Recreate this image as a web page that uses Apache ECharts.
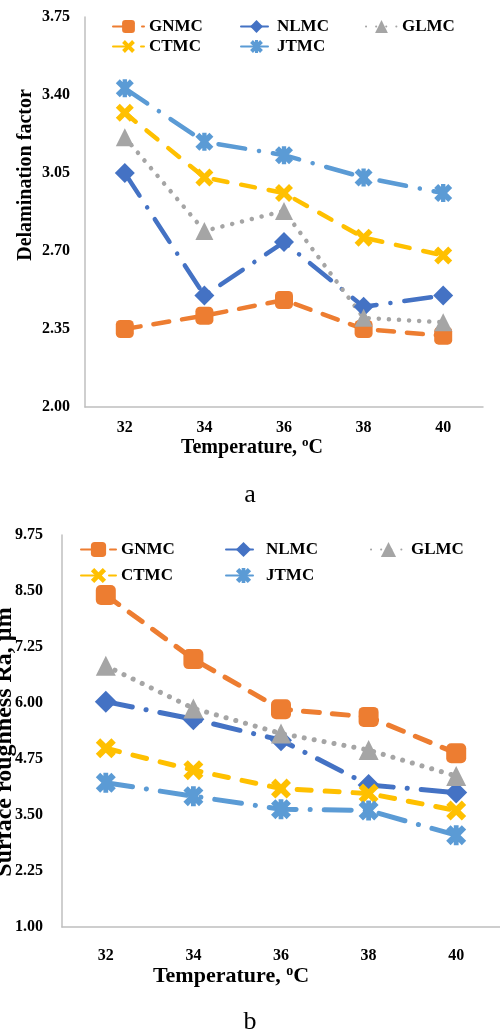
<!DOCTYPE html>
<html>
<head>
<meta charset="utf-8">
<script src="https://cdn.jsdelivr.net/npm/echarts@6/dist/echarts.min.js"></script>
<style>
html, body { margin: 0; padding: 0; background: #fff; }
#chart { width: 500px; height: 1035px; }
</style>
</head>
<body>
<div id="chart"></div>
<script>
// categories
const temperatures = ['32', '34', '36', '38', '40'];
const seriesNames = ['GNMC', 'NLMC', 'GLMC', 'CTMC', 'JTMC'];

// (a) delamination factor
const delamGNMC = [2.35, 2.41, 2.48, 2.35, 2.32];
const delamNLMC = [3.05, 2.50, 2.74, 2.45, 2.50];
const delamGLMC = [3.21, 2.79, 2.88, 2.40, 2.38];
const delamCTMC = [3.32, 3.03, 2.96, 2.76, 2.68];
const delamJTMC = [3.43, 3.19, 3.13, 3.03, 2.96];

// (b) surface roughness Ra, µm
const raGNMC = [8.41, 6.98, 5.86, 5.69, 4.88];
const raNLMC = [6.03, 5.64, 5.17, 4.17, 4.00];
const raGLMC = [6.83, 5.88, 5.32, 4.95, 4.37];
const raCTMC = [4.99, 4.50, 4.09, 3.98, 3.60];
const raJTMC = [4.22, 3.92, 3.63, 3.60, 3.05];

const FONT = "'Liberation Serif', 'Times New Roman', serif";

// marker shapes
const xPath = 'path://M0,0.22L0.22,0L0.5,0.28L0.78,0L1,0.22L0.72,0.5L1,0.78L0.78,1L0.5,0.72L0.22,1L0,0.78L0.28,0.5Z';
const starPath = 'path://M0,0.22L0.22,0L0.5,0.28L0.78,0L1,0.22L0.72,0.5L1,0.78L0.78,1L0.5,0.72L0.22,1L0,0.78L0.28,0.5Z M0.38,0L0.62,0L0.62,1L0.38,1Z';

const styles = {
  GNMC: { color: '#ED7D31', dash: [16, 13], symbol: 'roundRect' },
  NLMC: { color: '#4472C4', dash: [27, 14, 0.1, 14], symbol: 'diamond' },
  GLMC: { color: '#A5A5A5', dash: [0.1, 10], symbol: 'triangle' },
  CTMC: { color: '#FFC000', dash: [14, 14], symbol: xPath },
  JTMC: { color: '#5B9BD5', dash: [27, 14, 0.1, 14], symbol: starPath }
};

function makeSeries(name, data, idx, size, width) {
  const s = styles[name];
  return {
    name: name,
    type: 'line',
    xAxisIndex: idx,
    yAxisIndex: idx,
    data: data,
    symbol: s.symbol,
    symbolSize: s.symbol === 'diamond' ? size + 2 : size,
    itemStyle: { color: s.color },
    lineStyle: { color: s.color, width: width, type: s.dash, cap: 'round' },
    emphasis: { disabled: true },
    animation: false
  };
}

const tickLabel = { fontFamily: FONT, fontWeight: 'bold', fontSize: 16, color: '#000' };
function nameStyle(size) {
  return {
    fontFamily: FONT, fontWeight: 'bold', fontSize: size, color: '#000',
    rich: { sup: { fontFamily: FONT, fontWeight: 'bold', fontSize: Math.round(size * 0.65), color: '#000', verticalAlign: 'top', padding: [0, 0, 10, 0] } }
  };
}
const axisLine = { show: true, lineStyle: { color: '#BFBFBF', width: 1.5 } };

// one legend per item so the columns line up like the original
function legendItem(name, left, top, itemWidth, itemHeight) {
  return {
    data: [name],
    left: left,
    top: top,
    itemWidth: itemWidth,
    itemHeight: itemHeight,
    padding: 0,
    selectedMode: false,
    textStyle: { fontFamily: FONT, fontWeight: 'bold', fontSize: 17, color: '#000' }
  };
}

const chart = echarts.init(document.getElementById('chart'));
chart.setOption({
  backgroundColor: '#fff',
  animation: false,
  grid: [
    { left: 85, top: 17, right: 17, height: 390, outerBoundsMode: 'none', containLabel: false },
    { left: 62, top: 535, right: 0, height: 392, outerBoundsMode: 'none', containLabel: false }
  ],
  legend: [
    legendItem('GNMC', 112, 18, 31, 16),
    legendItem('NLMC', 240, 18, 31, 16),
    legendItem('GLMC', 365, 18, 31, 16),
    legendItem('CTMC', 112, 38, 31, 16),
    legendItem('JTMC', 240, 38, 31, 16),
    legendItem('GNMC', 80, 541, 35, 19),
    legendItem('NLMC', 225, 541, 35, 19),
    legendItem('GLMC', 370, 541, 35, 19),
    legendItem('CTMC', 80, 567, 35, 19),
    legendItem('JTMC', 225, 567, 35, 19)
  ],
  xAxis: [
    {
      gridIndex: 0, type: 'category', data: temperatures,
      axisLine: axisLine, axisTick: { show: false },
      axisLabel: Object.assign({ margin: 13 }, tickLabel),
      name: 'Temperature, {sup|o}C', nameLocation: 'middle', nameGap: 29, nameMoveOverlap: false,
      nameTextStyle: Object.assign({ padding: [0, 64, 0, 0] }, nameStyle(20))
    },
    {
      gridIndex: 1, type: 'category', data: temperatures,
      axisLine: axisLine, axisTick: { show: false },
      axisLabel: Object.assign({ margin: 21 }, tickLabel),
      name: 'Temperature, {sup|o}C', nameLocation: 'middle', nameGap: 37, nameMoveOverlap: false,
      nameTextStyle: Object.assign({ padding: [0, 100, 0, 0] }, nameStyle(22))
    }
  ],
  yAxis: [
    {
      gridIndex: 0, type: 'value', min: 2, max: 3.75, interval: 0.35,
      axisLine: axisLine, axisTick: { show: false }, splitLine: { show: false },
      axisLabel: Object.assign({ margin: 15, formatter: v => v.toFixed(2) }, tickLabel),
      name: 'Delamination factor', nameLocation: 'middle', nameGap: 49, nameMoveOverlap: false,
      nameTextStyle: Object.assign({ padding: [0, 0, 0, 74] }, nameStyle(20))
    },
    {
      gridIndex: 1, type: 'value', min: 1, max: 9.75, interval: 1.25,
      axisLine: axisLine, axisTick: { show: false }, splitLine: { show: false },
      axisLabel: Object.assign({ margin: 19, formatter: v => v.toFixed(2) }, tickLabel),
      name: 'Surface roughness Ra, µm', nameLocation: 'middle', nameGap: 45, nameMoveOverlap: false,
      nameTextStyle: Object.assign({ padding: [0, 22, 0, 0] }, nameStyle(24))
    }
  ],
  graphic: [
    { type: 'text', left: 'center', top: 482, style: { text: 'a', fontFamily: FONT, fontSize: 26, fill: '#000' } },
    { type: 'text', left: 'center', top: 1009, style: { text: 'b', fontFamily: FONT, fontSize: 26, fill: '#000' } }
  ],
  series: [
    makeSeries('GNMC', delamGNMC, 0, 18, 4.5),
    makeSeries('NLMC', delamNLMC, 0, 18, 4.5),
    makeSeries('GLMC', delamGLMC, 0, 18, 4.5),
    makeSeries('CTMC', delamCTMC, 0, 18, 4.5),
    makeSeries('JTMC', delamJTMC, 0, 18, 4.5),
    makeSeries('GNMC', raGNMC, 1, 20, 5),
    makeSeries('NLMC', raNLMC, 1, 20, 5),
    makeSeries('GLMC', raGLMC, 1, 20, 5),
    makeSeries('CTMC', raCTMC, 1, 20, 5),
    makeSeries('JTMC', raJTMC, 1, 20, 5)
  ]
});
</script>
</body>
</html>
